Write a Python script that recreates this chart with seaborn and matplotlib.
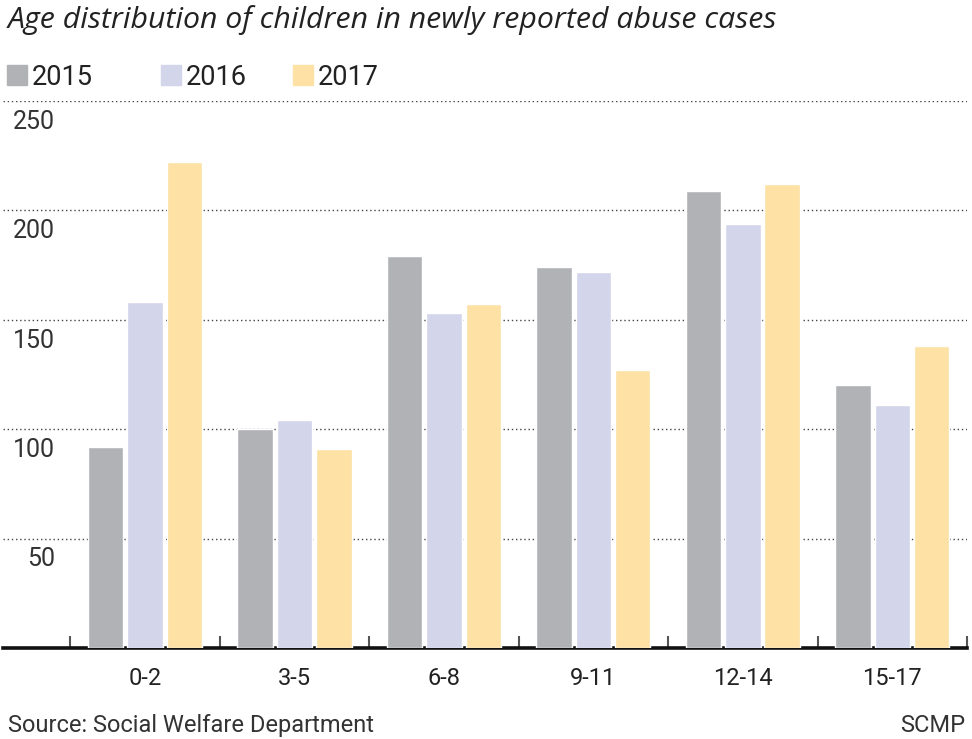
import pandas as pd
import matplotlib
matplotlib.use("Agg")
import matplotlib.pyplot as plt
from matplotlib.patches import Rectangle
import seaborn as sns

# values
age_groups = ['0-2', '3-5', '6-8', '9-11', '12-14', '15-17']
years = ['2015', '2016', '2017']
cases_2015 = [92, 100, 179, 174, 209, 120]
cases_2016 = [158, 104, 153, 172, 194, 111]
cases_2017 = [222, 91, 157, 127, 212, 138]
y_ticks = [50, 100, 150, 200, 250]
colours = ['#b1b2b6', '#d3d5ea', '#fde1a5']

df = pd.DataFrame({
    'age_group': age_groups * 3,
    'year': [y for y in years for _ in age_groups],
    'cases': cases_2015 + cases_2016 + cases_2017,
})

sns.set_style('white')
plt.rcParams['font.family'] = ['Roboto', 'DejaVu Sans']

W, H = 972, 739
fig = plt.figure(figsize=(W / 100, H / 100), dpi=100)
ax = fig.add_axes([3 / W, 1 - 648 / H, 964 / W, (648 - 101) / H])

sns.barplot(data=df, x='age_group', y='cases', hue='year', palette=colours,
            width=0.79, gap=0.1, saturation=1, legend=False, ax=ax, zorder=3)

ax.set_xlim(-0.95, 5.5)
ax.set_ylim(0, 250)

# dotted gridlines behind the bars
for v in y_ticks:
    ax.axhline(v, color='#444444', lw=1, ls=(0, (1, 2)), zorder=1)

# y labels sit just under their gridline, right aligned at x=55px
for v in y_ticks:
    ax.text(52 / 964, v - 4, str(v), transform=ax.get_yaxis_transform(),
            ha='right', va='top', fontsize=18, color='#333333')

ax.set_yticks([])
ax.set_xlabel('')
ax.set_ylabel('')
ax.set_xticks(range(len(age_groups)))
ax.set_xticklabels(age_groups)
ax.tick_params(axis='x', length=0, pad=14, labelsize=17, labelcolor='#222222')
ax.set_xticks([i - 0.5 for i in range(len(age_groups) + 1)], minor=True)
ax.tick_params(axis='x', which='minor', bottom=True, direction='in', length=9,
               width=1.5, color='#555555')

for s in ['top', 'left', 'right']:
    ax.spines[s].set_visible(False)
ax.spines['bottom'].set_linewidth(2.6)
ax.spines['bottom'].set_color('#111111')

# legend along the top, placed by hand
legend_x = [7, 161, 293]
for x0, year, col in zip(legend_x, years, colours):
    fig.patches.append(Rectangle((x0 / W, 1 - 85 / H), 20 / W, 20 / H,
                                 transform=fig.transFigure, color=col))
    fig.text((x0 + 25) / W, 1 - 85 / H, year, fontsize=19.5, color='#222222',
             va='baseline')

fig.text(8 / W, 1 - 28 / H, 'Age distribution of children in newly reported abuse cases',
         fontsize=21.8, style='italic', color='#222222', va='baseline',
         family=['Open Sans', 'DejaVu Sans'])
fig.text(8 / W, 1 - 732 / H, 'Source: Social Welfare Department', fontsize=17,
         color='#333333', va='baseline')
fig.text(965 / W, 1 - 732 / H, 'SCMP', fontsize=17, color='#333333', va='baseline', ha='right')

fig.savefig('out.png', dpi=100)
